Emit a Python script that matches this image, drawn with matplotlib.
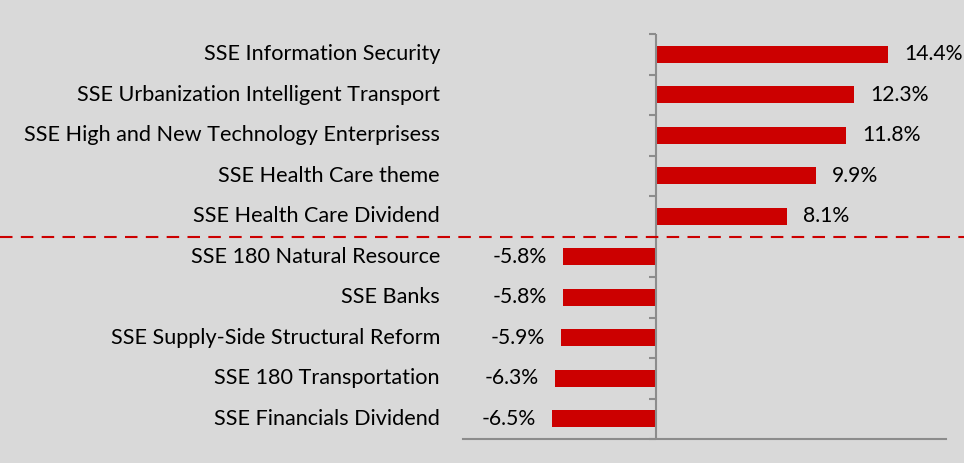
import matplotlib.pyplot as plt
import matplotlib.transforms as mtransforms

# index names and returns (%), top to bottom
names = [
    "SSE Information Security",
    "SSE Urbanization Intelligent Transport",
    "SSE High and New Technology Enterprisess",
    "SSE Health Care theme",
    "SSE Health Care Dividend",
    "SSE 180 Natural Resource",
    "SSE Banks",
    "SSE Supply-Side Structural Reform",
    "SSE 180 Transportation",
    "SSE Financials Dividend",
]
returns = [14.4, 12.3, 11.8, 9.9, 8.1, -5.8, -5.8, -5.9, -6.3, -6.5]

bg = "#d9d9d9"
red = "#cc0000"
grey = "#8c8c8c"

plt.rcParams['font.family'] = ['Lato', 'DejaVu Sans']

fig = plt.figure(figsize=(9.64, 4.63), dpi=100, facecolor=bg)
ax = fig.add_axes([463 / 964, 24 / 463, 483 / 964, 405 / 463])
ax.set_facecolor(bg)

ypos = list(range(len(names)))
ax.barh(ypos, returns, height=0.41, color=red)
ax.set_xlim(-12, 18)
ax.set_ylim(len(names) - 0.5, -0.5)

# spines: only the zero line and the bottom line
for s in ("top", "right", "left"):
    ax.spines[s].set_visible(False)
ax.spines["bottom"].set_color(grey)
ax.spines["bottom"].set_linewidth(1.5)
ax.axvline(0, color=grey, lw=1.5)

ax.set_xticks([])
ax.set_yticks([])
# tick marks at category boundaries on the zero line
for k in range(len(names) + 1):
    ax.plot([-0.45, 0], [k - 0.5, k - 0.5], color=grey, lw=1.5,
            solid_capstyle="butt", clip_on=False)

# category labels on the left
lab_tr = mtransforms.blended_transform_factory(ax.transAxes, ax.transData)
for y, n in zip(ypos, names):
    ax.text(-23 / 483, y, n, transform=lab_tr, ha="right", va="center",
            fontsize=15.6, color="#000000")

# value labels
off = mtransforms.offset_copy
for y, v in zip(ypos, returns):
    if v >= 0:
        tr = off(ax.transData, fig=fig, x=16, y=0, units="dots")
        ax.text(v, y, "%.1f%%" % v, transform=tr, ha="left", va="center",
                fontsize=15.2)
    else:
        tr = off(ax.transData, fig=fig, x=-16, y=0, units="dots")
        ax.text(v, y, "%.1f%%" % v, transform=tr, ha="right", va="center",
                fontsize=15.2)

# dashed separator across the whole figure
sep_tr = mtransforms.blended_transform_factory(fig.transFigure, ax.transData)
ax.plot([0, 1], [4.5, 4.5], transform=sep_tr, color=red, lw=1.5,
        ls=(0, (6, 4)), clip_on=False)

fig.savefig("out.png", dpi=100, facecolor=bg)
